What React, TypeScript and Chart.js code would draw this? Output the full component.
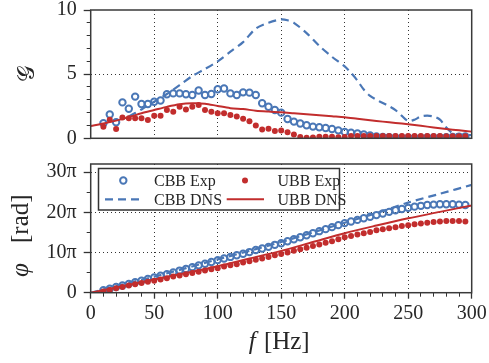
import React, { useEffect, useRef } from "react";
import { Chart, registerables } from "chart.js";

Chart.register(...registerables);

// ---------- data ----------
const expFreq = [
  10, 15, 20, 25, 30, 35, 40, 45, 50, 55,
  60, 65, 70, 75, 80, 85, 90, 95, 100, 105,
  110, 115, 120, 125, 130, 135, 140, 145, 150, 155,
  160, 165, 170, 175, 180, 185, 190, 195, 200, 205,
  210, 215, 220, 225, 230, 235, 240, 245, 250, 255,
  260, 265, 270, 275, 280, 285, 290, 295,
];

const cbbExpGain = [
  1.17, 1.85, 1.25, 2.8, 2.3, 3.25, 2.67, 2.67, 2.85, 2.95,
  3.43, 3.5, 3.5, 3.43, 3.37, 3.72, 3.37, 3.45, 3.82, 3.88,
  3.5, 3.37, 3.58, 3.56, 3.37, 2.73, 2.46, 2.2, 2.0, 1.5,
  1.3, 1.15, 1.02, 0.91, 0.86, 0.8, 0.73, 0.62, 0.5, 0.44,
  0.38, 0.3, 0.22, 0.15, 0.1, 0.08, 0.06, 0.05, 0.05, 0.05,
  0.05, 0.06, 0.06, 0.07, 0.08, 0.1, 0.12, 0.15,
];

const ubbExpGain = [
  0.9, 1.45, 0.72, 1.62, 1.56, 1.56, 1.56, 1.43, 1.76, 1.76,
  2.2, 2.07, 2.46, 2.25, 2.46, 2.6, 2.2, 2.07, 1.95, 1.95,
  1.82, 1.69, 1.52, 1.33, 0.99, 0.68, 0.75, 0.57, 0.6, 0.47,
  0.3, 0.1, 0.05, 0.07, 0.13, 0.13, 0.12, 0.08, 0.1, 0.18,
  0.18, 0.18, 0.18, 0.17, 0.17, 0.17, 0.17, 0.17, 0.17, 0.17,
  0.17, 0.17, 0.17, 0.17, 0.16, 0.16, 0.16, 0.16,
];

const cbbDnsGainFreq = [
  30, 40, 50, 60, 70, 80, 90, 100, 110, 120, 130, 140, 150, 155, 160, 170,
  180, 190, 200, 205, 210, 215, 220, 225, 230, 235, 240, 245, 250, 255, 260,
  265, 270, 275, 280, 285, 290, 300,
];
const cbbDnsGain = [
  1.7, 2.25, 2.85, 3.45, 4.15, 4.85, 5.4, 6.0, 6.75, 7.5, 8.55, 9.0, 9.27, 9.2, 9.0, 8.2,
  7.2, 6.35, 5.6, 5.1, 4.5, 3.8, 3.3, 3.0, 2.75, 2.5, 2.2, 1.75, 1.35, 1.45, 1.7,
  1.76, 1.7, 1.45, 0.85, 0.4, 0.3, 0.25,
];

const ubbDnsGainFreq = [
  0, 10, 20, 30, 40, 50, 60, 70, 80, 90, 100, 110, 120, 130, 140, 150,
  160, 170, 180, 190, 200, 210, 220, 230, 240, 250, 260, 270, 280, 290, 300,
];
const ubbDnsGain = [
  0.96, 1.15, 1.38, 1.65, 1.95, 2.2, 2.45, 2.65, 2.73, 2.7, 2.52, 2.35, 2.28, 2.15, 2.08, 2.03,
  1.95, 1.87, 1.8, 1.72, 1.64, 1.52, 1.4, 1.3, 1.2, 1.09, 0.97, 0.85, 0.73, 0.62, 0.52,
];

// phase, in units of pi
const cbbExpPhase = [
  0.6, 1.0, 1.4, 1.8, 2.2, 2.6, 3.0, 3.4, 3.8, 4.2,
  4.6, 5.05, 5.5, 5.9, 6.35, 6.8, 7.2, 7.65, 8.1, 8.5,
  8.9, 9.3, 9.7, 10.1, 10.6, 11.0, 11.4, 11.9, 12.3, 12.8,
  13.3, 13.8, 14.3, 14.8, 15.3, 15.8, 16.3, 16.8, 17.3, 17.7,
  18.1, 18.5, 18.9, 19.3, 19.7, 20.1, 20.5, 20.8, 21.1, 21.4,
  21.6, 21.8, 21.9, 22.0, 22.0, 22.0, 21.9, 21.8,
];

const ubbExpPhase = [
  0.3, 0.7, 1.1, 1.4, 1.8, 2.1, 2.4, 2.7, 3.0, 3.3,
  3.6, 4.0, 4.3, 4.6, 4.9, 5.2, 5.5, 5.8, 6.1, 6.5,
  6.8, 7.1, 7.5, 7.8, 8.2, 8.5, 8.9, 9.3, 9.6, 10.0,
  10.4, 10.8, 11.2, 11.6, 12.0, 12.4, 12.8, 13.3, 13.8, 14.1,
  14.5, 14.8, 15.1, 15.5, 15.8, 16.0, 16.3, 16.6, 16.8, 17.0,
  17.2, 17.4, 17.6, 17.7, 17.8, 17.8, 17.8, 17.7,
];

const dnsPhaseFreq = [0, 25, 50, 75, 100, 125, 150, 175, 200, 225, 250, 275, 300];
const cbbDnsPhase = [0, 2.0, 4.0, 6.1, 8.3, 10.4, 12.6, 15.0, 17.4, 19.8, 22.4, 24.6, 26.8];
const ubbDnsPhase = [0, 1.6, 3.3, 4.9, 6.6, 8.5, 10.4, 12.6, 14.8, 16.7, 18.5, 20.1, 21.7];

const freqMajorTicks = [0, 50, 100, 150, 200, 250, 300];
const freqMinorTicks = [0, 10, 20, 30, 40, 50, 60, 70, 80, 90, 100, 110, 120, 130, 140, 150,
  160, 170, 180, 190, 200, 210, 220, 230, 240, 250, 260, 270, 280, 290, 300];
const gainMajorTicks = [0, 5, 10];
const gainMinorTicks = [0, 1, 2, 3, 4, 5, 6, 7, 8, 9, 10];
const phaseMajorTicks = [0, 10, 20, 30];
const phaseMinorTicks = [0, 5, 10, 15, 20, 25, 30];

const legendLabels = ["CBB Exp", "CBB DNS", "UBB Exp", "UBB DNS"];
const xTitle = ["f", " [Hz]"];
const gainTitle = "𝒢";
const phaseTitle = ["φ", "[rad]"];

// ---------- style ----------
const BLUE = "#4a77b6";
const RED = "#c22d2d";
const TXT = "#262626";
const SERIF = '"Liberation Serif", "DejaVu Serif", serif';
const W = 489;
const PLOT_LEFT = 90.7;
const PLOT_RIGHT_PAD = 17.3;

const pts = (xs: number[], ys: number[]) => xs.map((x, i) => ({ x, y: ys[i] }));

const makeDatasets = (
  cbbExp: number[],
  cbbDnsF: number[],
  cbbDns: number[],
  ubbExp: number[],
  ubbDnsF: number[],
  ubbDns: number[]
) => [
  {
    label: legendLabels[0],
    data: pts(expFreq, cbbExp),
    showLine: false,
    pointRadius: 3.2,
    pointBorderWidth: 2,
    pointBorderColor: BLUE,
    pointBackgroundColor: "rgba(0,0,0,0)",
    borderColor: BLUE,
    order: 3,
  },
  {
    label: legendLabels[1],
    data: pts(cbbDnsF, cbbDns),
    borderColor: BLUE,
    borderWidth: 2.2,
    borderDash: [8, 5],
    pointRadius: 0,
    tension: 0.3,
    fill: false,
    order: 2,
  },
  {
    label: legendLabels[2],
    data: pts(expFreq, ubbExp),
    showLine: false,
    pointRadius: 3,
    pointBorderWidth: 0,
    pointBackgroundColor: RED,
    borderColor: RED,
    order: 1,
  },
  {
    label: legendLabels[3],
    data: pts(ubbDnsF, ubbDns),
    borderColor: RED,
    borderWidth: 2,
    pointRadius: 0,
    tension: 0.3,
    fill: false,
    order: 0,
  },
];

const framePlugin = {
  id: "frame",
  afterDraw(chart: any) {
    const { ctx, chartArea: a } = chart;
    ctx.save();
    ctx.strokeStyle = "#3a3a3a";
    ctx.lineWidth = 1.5;
    ctx.strokeRect(a.left, a.top, a.right - a.left, a.bottom - a.top);
    ctx.restore();
  },
};

const zeroPad = (s: any) => {
  s.paddingTop = 0;
  s.paddingBottom = 0;
  s.paddingLeft = 0;
  s.paddingRight = 0;
};

const setTicks = (list: number[]) => (s: any) => {
  s.ticks = list.map((value) => ({ value }));
};

const gridColorFor = (max: number) => (c: any) => {
  const v = c.tick ? c.tick.value : 0;
  return v > 0 && v < max ? "#333" : "rgba(0,0,0,0)";
};

const tickFont = { family: SERIF, size: 20, lineHeight: 1 };
const dotted = { display: false, dash: [1, 3] };

export default function App() {
  const topRef = useRef<HTMLCanvasElement | null>(null);
  const botRef = useRef<HTMLCanvasElement | null>(null);

  useEffect(() => {
    if (!topRef.current || !botRef.current) return;

    const topTitle = {
      id: "topTitle",
      afterDraw(chart: any) {
        const ctx = chart.ctx;
        const a = chart.chartArea;
        ctx.save();
        ctx.translate(28, (a.top + a.bottom) / 2);
        ctx.rotate(-Math.PI / 2);
        ctx.fillStyle = TXT;
        ctx.font = '23px "DejaVu Serif", "DejaVu Sans", serif';
        ctx.textAlign = "center";
        ctx.textBaseline = "middle";
        ctx.fillText(gainTitle, 0, 0);
        ctx.restore();
      },
    };

    const botDecor = {
      id: "botDecor",
      afterDraw(chart: any) {
        const ctx = chart.ctx;
        const a = chart.chartArea;
        const ds = chart.data.datasets;
        // y title
        ctx.save();
        ctx.translate(21, 127);
        ctx.rotate(-Math.PI / 2);
        ctx.fillStyle = TXT;
        ctx.textBaseline = "middle";
        ctx.textAlign = "left";
        ctx.font = `italic 25px ${SERIF}`;
        ctx.fillText(phaseTitle[0], 0, 0);
        ctx.font = `25px ${SERIF}`;
        ctx.fillText(phaseTitle[1], 34, 0);
        ctx.restore();
        // x title
        ctx.save();
        ctx.fillStyle = TXT;
        ctx.textBaseline = "alphabetic";
        ctx.font = `italic 25px ${SERIF}`;
        const fW = ctx.measureText(xTitle[0]).width;
        ctx.font = `25px ${SERIF}`;
        const rW = ctx.measureText(xTitle[1]).width;
        const cx = (a.left + a.right) / 2 - 3;
        const x0 = cx - (fW + rW) / 2;
        ctx.font = `italic 25px ${SERIF}`;
        ctx.fillText(xTitle[0], x0, 199);
        ctx.font = `25px ${SERIF}`;
        ctx.fillText(xTitle[1], x0 + fW + 2, 199);
        ctx.restore();
        // legend
        ctx.save();
        const bx = 98.5, by = 18.5, bw = 241, bh = 41.5;
        ctx.fillStyle = "#fff";
        ctx.fillRect(bx, by, bw, bh);
        ctx.strokeStyle = "#333";
        ctx.lineWidth = 1.5;
        ctx.strokeRect(bx, by, bw, bh);
        const cols = [
          { sym: 123.3, l0: 105, l1: 141.7, tx: 154 },
          { sym: 245, l0: 226.7, l1: 264, tx: 277.5 },
        ];
        const rows = [30.5, 49.3];
        ctx.font = `16px ${SERIF}`;
        ctx.textBaseline = "middle";
        ctx.textAlign = "left";
        for (let i = 0; i < ds.length; i++) {
          const d = ds[i];
          const col = cols[Math.floor(i / 2)];
          const y = rows[i % 2];
          if (d.showLine === false) {
            ctx.beginPath();
            ctx.arc(col.sym, y, d.pointRadius, 0, Math.PI * 2);
            if (d.pointBorderWidth > 0) {
              ctx.lineWidth = d.pointBorderWidth;
              ctx.strokeStyle = d.pointBorderColor;
              ctx.stroke();
            } else {
              ctx.fillStyle = d.pointBackgroundColor;
              ctx.fill();
            }
          } else {
            ctx.beginPath();
            ctx.setLineDash(d.borderDash || []);
            ctx.lineWidth = d.borderWidth;
            ctx.strokeStyle = d.borderColor;
            ctx.moveTo(col.l0, y);
            ctx.lineTo(col.l1, y);
            ctx.stroke();
            ctx.setLineDash([]);
          }
          ctx.fillStyle = TXT;
          ctx.fillText(d.label, col.tx, y + 1);
        }
        ctx.restore();
      },
    };

    const topChart = new Chart(topRef.current, {
      type: "line",
      data: {
        datasets: makeDatasets(
          cbbExpGain,
          cbbDnsGainFreq,
          cbbDnsGain,
          ubbExpGain,
          ubbDnsGainFreq,
          ubbDnsGain
        ) as any,
      },
      options: {
        responsive: false,
        animation: false,
        events: [],
        layout: { padding: { left: 0, top: 10, right: PLOT_RIGHT_PAD, bottom: 11.7 } },
        plugins: { legend: { display: false }, tooltip: { enabled: false } },
        scales: {
          x: {
            type: "linear",
            min: 0,
            max: 300,
            afterBuildTicks: setTicks(freqMajorTicks),
            ticks: { display: false },
            grid: {
              color: gridColorFor(300),
              drawTicks: false,
              lineWidth: 1,
            },
            border: dotted,
            afterFit: (s: any) => {
              s.height = 0;
              zeroPad(s);
            },
          },
          y: {
            type: "linear",
            position: "left",
            min: 0,
            max: 10,
            weight: 1,
            afterBuildTicks: setTicks(gainMajorTicks),
            ticks: {
              font: tickFont,
              color: TXT,
              padding: 7,
              callback: (v: any) => String(v),
            },
            grid: {
              color: gridColorFor(10),
              tickColor: "#333",
              tickLength: 7,
              tickWidth: 1.3,
            },
            border: dotted,
            afterFit: (s: any) => {
              s.width = PLOT_LEFT;
              zeroPad(s);
            },
          },
          yMinor: {
            type: "linear",
            position: "left",
            min: 0,
            max: 10,
            weight: 0,
            afterBuildTicks: setTicks(gainMinorTicks),
            ticks: { display: false },
            grid: {
              drawOnChartArea: false,
              tickColor: "#333",
              tickLength: 4,
              tickWidth: 1,
            },
            border: { display: false },
            afterFit: (s: any) => {
              s.width = 0;
              zeroPad(s);
            },
          },
        },
      } as any,
      plugins: [framePlugin, topTitle],
    });

    const botChart = new Chart(botRef.current, {
      type: "line",
      data: {
        datasets: makeDatasets(
          cbbExpPhase,
          dnsPhaseFreq,
          cbbDnsPhase,
          ubbExpPhase,
          dnsPhaseFreq,
          ubbDnsPhase
        ) as any,
      },
      options: {
        responsive: false,
        animation: false,
        events: [],
        layout: { padding: { left: 0, top: 14, right: PLOT_RIGHT_PAD, bottom: 0 } },
        plugins: { legend: { display: false }, tooltip: { enabled: false } },
        scales: {
          x: {
            type: "linear",
            min: 0,
            max: 300,
            weight: 1,
            afterBuildTicks: setTicks(freqMajorTicks),
            ticks: {
              font: tickFont,
              color: TXT,
              padding: 5,
              maxRotation: 0,
              autoSkip: false,
              callback: (v: any) => String(v),
            },
            grid: {
              color: gridColorFor(300),
              tickColor: "#333",
              tickLength: 6,
              tickWidth: 1.3,
            },
            border: dotted,
            afterFit: (s: any) => {
              s.height = 70.3;
              zeroPad(s);
            },
          },
          xMinor: {
            type: "linear",
            position: "bottom",
            min: 0,
            max: 300,
            weight: 0,
            afterBuildTicks: setTicks(freqMinorTicks),
            ticks: { display: false },
            grid: {
              drawOnChartArea: false,
              tickColor: "#333",
              tickLength: 4,
              tickWidth: 1,
            },
            border: { display: false },
            afterFit: (s: any) => {
              s.height = 0;
              zeroPad(s);
            },
          },
          y: {
            type: "linear",
            position: "left",
            min: 0,
            max: 32,
            weight: 1,
            afterBuildTicks: setTicks(phaseMajorTicks),
            ticks: {
              font: tickFont,
              color: TXT,
              padding: 7,
              callback: (v: any) => (v === 0 ? "0" : `${v}π`),
            },
            grid: {
              color: gridColorFor(32),
              tickColor: "#333",
              tickLength: 7,
              tickWidth: 1.3,
            },
            border: dotted,
            afterFit: (s: any) => {
              s.width = PLOT_LEFT;
              zeroPad(s);
            },
          },
          yMinor: {
            type: "linear",
            position: "left",
            min: 0,
            max: 32,
            weight: 0,
            afterBuildTicks: setTicks(phaseMinorTicks),
            ticks: { display: false },
            grid: {
              drawOnChartArea: false,
              tickColor: "#333",
              tickLength: 4,
              tickWidth: 1,
            },
            border: { display: false },
            afterFit: (s: any) => {
              s.width = 0;
              zeroPad(s);
            },
          },
        },
      } as any,
      plugins: [framePlugin, botDecor],
    });

    return () => {
      topChart.destroy();
      botChart.destroy();
    };
  }, []);

  return (
    <div
      style={{
        position: "absolute",
        left: 0,
        top: 0,
        width: W,
        height: 363,
        background: "#fff",
        overflow: "hidden",
      }}
    >
      <canvas
        ref={topRef}
        width={W}
        height={150}
        style={{ position: "absolute", left: 0, top: 0, width: W, height: 150, display: "block" }}
      />
      <canvas
        ref={botRef}
        width={W}
        height={213}
        style={{ position: "absolute", left: 0, top: 150, width: W, height: 213, display: "block" }}
      />
    </div>
  );
}
